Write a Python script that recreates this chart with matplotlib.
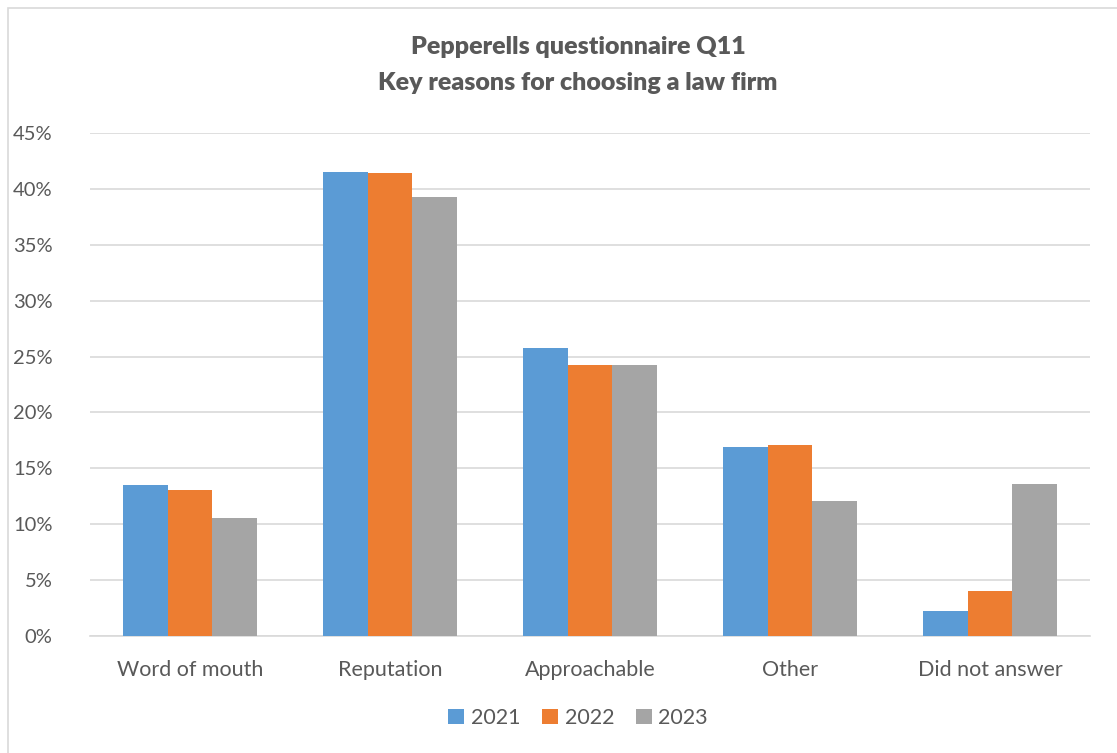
import numpy as np
import matplotlib
matplotlib.use("Agg")
import matplotlib.pyplot as plt
from matplotlib.patches import Rectangle
from matplotlib.ticker import PercentFormatter

categories = ["Word of mouth", "Reputation", "Approachable", "Other", "Did not answer"]
years = ["2021", "2022", "2023"]
values_2021 = [0.135, 0.415, 0.258, 0.169, 0.022]
values_2022 = [0.131, 0.414, 0.242, 0.171, 0.040]
values_2023 = [0.106, 0.393, 0.242, 0.121, 0.136]
colors = ["#5B9BD5", "#ED7D31", "#A5A5A5"]

text_color = "#595959"
plt.rcParams["font.family"] = ["Lato", "DejaVu Sans"]

fig = plt.figure(figsize=(11.17, 7.53), dpi=100)
ax = fig.add_axes([90 / 1117, 1 - 636 / 753, 1000 / 1117, 503 / 753])

# chart border like the Excel chart area
fig.patches.append(Rectangle((8 / 1117, -0.05), 1.1, 1 - 8 / 753 + 0.05,
                             transform=fig.transFigure, fill=False,
                             edgecolor="#d9d9d9", linewidth=1.2))

x = np.arange(len(categories))
width = 1 / 4.5
series = [values_2021, values_2022, values_2023]
for i, (vals, year) in enumerate(zip(series, years)):
    ax.bar(x + (i - 1) * width, vals, width, color=colors[i], label=year, zorder=3)

ax.set_xlim(-0.5, len(categories) - 0.5)
ax.set_ylim(0, 0.45)
ax.set_yticks(np.arange(0, 0.451, 0.05))
ax.yaxis.set_major_formatter(PercentFormatter(1.0, decimals=0))
ax.set_xticks(x)
ax.set_xticklabels(categories)
ax.grid(axis="y", color="#d9d9d9", linewidth=1.2, zorder=0)
for side in ["top", "right", "left"]:
    ax.spines[side].set_visible(False)
ax.spines["bottom"].set_color("#d9d9d9")
ax.spines["bottom"].set_linewidth(1.2)
ax.tick_params(axis="both", length=0, colors=text_color)
ax.tick_params(axis="x", labelsize=15.5, pad=17)
ax.tick_params(axis="y", labelsize=14.5, pad=27)

fig.text(0.5175, 1 - 47 / 753, "Pepperells questionnaire Q11", ha="center", va="center",
         fontsize=18, fontweight="heavy", color=text_color)
fig.text(0.5175, 1 - 83 / 753, "Key reasons for choosing a law firm", ha="center", va="center",
         fontsize=18, fontweight="heavy", color=text_color)

fig.legend(loc="center", bbox_to_anchor=(0.5175, 1 - 718 / 753), ncol=3, frameon=False,
           fontsize=15.5, labelcolor=text_color, handlelength=0.75, handleheight=0.75,
           handletextpad=0.3, columnspacing=1.0)

fig.savefig("out.png", dpi=100, facecolor="white")
